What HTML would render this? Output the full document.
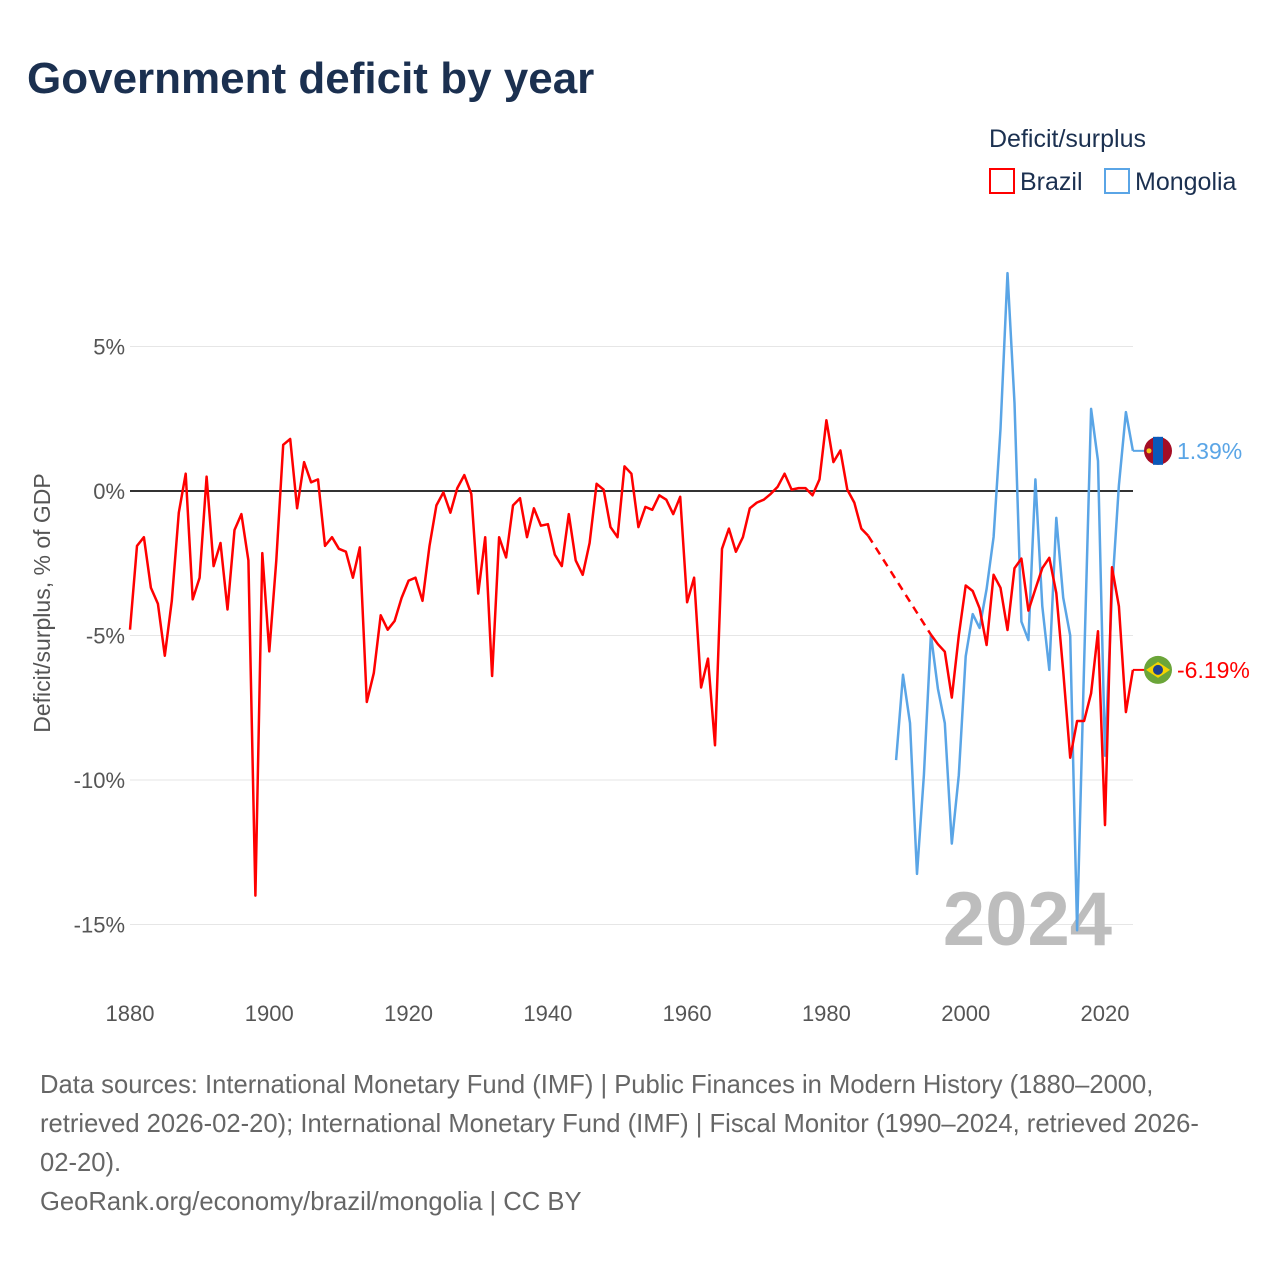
<!DOCTYPE html>
<html><head><meta charset="utf-8"><style>
body{margin:0;background:#fff;font-family:"Liberation Sans",sans-serif;}
#wrap{position:relative;width:1280px;height:1280px;overflow:hidden;}
</style></head><body>
<div id="wrap">
<svg id="chart" width="1280" height="1280" xmlns="http://www.w3.org/2000/svg">
<text x="27" y="93" font-size="44" font-weight="bold" fill="#1b3050">Government deficit by year</text>
<text x="989" y="147" font-size="25" fill="#1b3050">Deficit/surplus</text>
<g><rect x="990" y="169" width="24" height="24" fill="none" stroke="#ff0000" stroke-width="2"/><text x="1020" y="190" font-size="25" fill="#1b3050">Brazil</text></g>
<g><rect x="1105" y="169" width="24" height="24" fill="none" stroke="#5aa5e6" stroke-width="2"/><text x="1135" y="190" font-size="25" fill="#1b3050">Mongolia</text></g>
<text transform="translate(50,603) rotate(-90)" text-anchor="middle" font-size="23" fill="#555">Deficit/surplus, % of GDP</text>
<g id="grid"></g><g id="yticks"></g><g id="xticks"></g>
<text x="1112" y="945" text-anchor="end" font-size="76" font-weight="bold" fill="#bdbdbd">2024</text>
<g id="series"></g>
<g font-size="25.6" fill="#666">
<text x="40" y="1093">Data sources: International Monetary Fund (IMF) | Public Finances in Modern History (1880–2000,</text>
<text x="40" y="1132">retrieved 2026-02-20); International Monetary Fund (IMF) | Fiscal Monitor (1990–2024, retrieved 2026-</text>
<text x="40" y="1171">02-20).</text>
<text x="40" y="1210">GeoRank.org/economy/brazil/mongolia | CC BY</text>
</g>
</svg></div>
<script>
const brazilStart = 1880;
const brazilA = [-4.8,-1.9,-1.6,-3.35,-3.9,-5.7,-3.8,-0.75,0.6,-3.75,-3.0,0.5,-2.6,-1.8,-4.1,-1.35,-0.8,-2.4,-14.0,-2.15,-5.55,-2.4,1.6,1.8,-0.6,1.0,0.3,0.4,-1.9,-1.6,-2.0,-2.1,-3.0,-1.95,-7.3,-6.3,-4.3,-4.8,-4.5,-3.7,-3.1,-3.0,-3.8,-1.9,-0.5,-0.05,-0.75,0.1,0.55,-0.1,-3.55,-1.6,-6.4,-1.6,-2.3,-0.5,-0.25,-1.6,-0.6,-1.2,-1.15,-2.2,-2.6,-0.8,-2.4,-2.9,-1.8,0.25,0.05,-1.25,-1.6,0.85,0.6,-1.25,-0.55,-0.65,-0.15,-0.3,-0.8,-0.2,-3.85,-3.0,-6.8,-5.8,-8.8,-2.0,-1.3,-2.1,-1.6,-0.6,-0.4,-0.3,-0.1,0.15,0.6,0.05,0.1,0.1,-0.15,0.4,2.45,1.0,1.4,0.05,-0.4,-1.3,-1.55];
const brazilBStart = 1995;
const brazilB = [-4.97,-5.3,-5.56,-7.15,-5.0,-3.27,-3.46,-4.06,-5.33,-2.9,-3.35,-4.81,-2.67,-2.34,-4.14,-3.39,-2.67,-2.31,-3.53,-6.23,-9.23,-7.96,-7.96,-7.0,-4.85,-11.56,-2.64,-3.99,-7.65,-6.19];
const mongoliaStart = 1990;
const mongolia = [-9.31,-6.36,-8.03,-13.25,-9.83,-4.97,-6.84,-8.03,-12.2,-9.83,-5.72,-4.26,-4.74,-3.39,-1.59,2.15,7.54,3.05,-4.52,-5.16,0.4,-3.99,-6.19,-0.93,-3.69,-5.0,-15.2,-6.0,2.84,1.04,-9.16,-3.5,0.2,2.73,1.39];
const yTicks = [5,0,-5,-10,-15];
const xTicks = [1880,1900,1920,1940,1960,1980,2000,2020];
const NS='http://www.w3.org/2000/svg';
const X = yr => 130 + (yr-1880)*975/140;
const Y = v => 491 - v*28.9;
function mk(tag, attrs, parent){const e=document.createElementNS(NS,tag);for(const k in attrs)e.setAttribute(k,attrs[k]);parent.appendChild(e);return e;}
const grid=document.getElementById('grid'), yt=document.getElementById('yticks'), xt=document.getElementById('xticks'), ser=document.getElementById('series');
yTicks.forEach(v=>{
  const l=mk('line',{x1:130,x2:1133,y1:Y(v),y2:Y(v),stroke:v===0?'#333':'#e6e6e6','stroke-width':v===0?2:1},grid);
  
  
  const t=mk('text',{x:125,y:Y(v)+8,'text-anchor':'end','font-size':22,fill:'#555'},yt);
  t.textContent=v+'%';
  
  
});
xTicks.forEach(yr=>{
  const t=mk('text',{x:X(yr),y:1021,'text-anchor':'middle','font-size':22,fill:'#555'},xt);
  t.textContent=yr;
  
  
});
function pts(start, arr){return arr.map((v,i)=>X(start+i).toFixed(1)+','+Y(v).toFixed(1)).join(' ');}
const mg=mk('polyline',{points:pts(mongoliaStart,mongolia),fill:'none',stroke:'#5aa5e6','stroke-width':2.5,'stroke-linejoin':'round'},ser);


const ba=mk('polyline',{points:pts(brazilStart,brazilA),fill:'none',stroke:'#ff0000','stroke-width':2.5,'stroke-linejoin':'round'},ser);


const lastA=brazilStart+brazilA.length-1;
const gap=mk('line',{x1:X(lastA),y1:Y(brazilA[brazilA.length-1]),x2:X(brazilBStart),y2:Y(brazilB[0]),stroke:'#ff0000','stroke-width':2.5,'stroke-dasharray':'8,6'},ser);


const bb=mk('polyline',{points:pts(brazilBStart,brazilB),fill:'none',stroke:'#ff0000','stroke-width':2.5,'stroke-linejoin':'round'},ser);


function endLabel(v,color,name,flag){
  const y=Y(v), x=X(2024);
  const l=mk('line',{x1:x,y1:y,x2:1146,y2:y,stroke:color,'stroke-width':2},ser);
  
  
  const g=mk('g',{},ser);
  
  
  if(flag==='mn'){
    mk('circle',{cx:1158,cy:y,r:14,fill:'#a50d25'},g);
    mk('rect',{x:1153,y:y-14,width:10,height:28,fill:'#0a58b8'},g);
    mk('circle',{cx:1149,cy:y,r:2.5,fill:'#f5c518'},g);
  } else {
    mk('circle',{cx:1158,cy:y,r:14,fill:'#6ba539'},g);
    mk('polygon',{points:`1146,${y} 1158,${y-8} 1170,${y} 1158,${y+8}`,fill:'#f5d400'},g);
    mk('circle',{cx:1158,cy:y,r:5,fill:'#1d3f8f'},g);
  }
  const t=mk('text',{x:1177,y:y+8,'font-size':23,fill:color},ser);
  t.textContent=v.toFixed(2)+'%';
  
  
}
endLabel(mongolia[mongolia.length-1],'#5aa5e6','mongolia','mn');
endLabel(brazilB[brazilB.length-1],'#ff0000','brazil','br');
</script>
</body></html>
